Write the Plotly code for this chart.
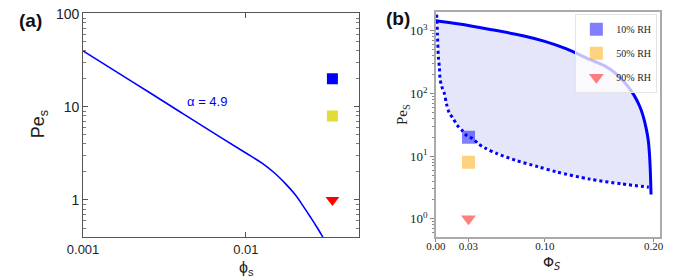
import plotly.graph_objects as go

# ---------------- data: panel (a) ----------------
a_phi = [0.001, 0.002, 0.004, 0.007, 0.01, 0.0125, 0.015, 0.0175, 0.02, 0.0225, 0.025, 0.0275, 0.0297]
a_pe = [40, 18.7, 8.7, 4.7, 3.2, 2.5, 1.95, 1.5, 1.15, 0.86, 0.65, 0.50, 0.40]
a_mark_phi = 0.034
a_mark_pe = [20, 8, 1]
a_minor_y = [0.5, 0.6, 0.7, 0.8, 0.9, 2, 3, 4, 5, 6, 7, 8, 9, 20, 30, 40, 50, 60, 70, 80, 90]

# ---------------- data: panel (b) ----------------
b_solid_phi = [0.0, 0.02, 0.05, 0.08, 0.1, 0.12, 0.14, 0.155, 0.165, 0.175,
               0.182, 0.187, 0.19, 0.193, 0.195, 0.1962, 0.197, 0.1975]
b_solid_pe = [1445, 1288, 1047, 832, 676, 513, 355, 275, 209, 138,
              93, 63, 45, 28, 17.8, 10, 5, 2.45]
b_dot_phi = [0.0008, 0.0015, 0.0024, 0.0033, 0.0039, 0.0054, 0.0078, 0.0098, 0.0123,
             0.0158, 0.0197, 0.0239, 0.0286, 0.0338, 0.0389, 0.0457, 0.0561, 0.074,
             0.0935, 0.111, 0.141, 0.171, 0.1955]
b_dot_pe = [1800, 900, 370, 260, 170, 130, 100, 68, 49, 40, 31, 26, 21, 19, 15.8,
            13.3, 11, 8.5, 6.8, 5.6, 4.3, 3.6, 3.2]
b_mark_phi = 0.03
b_mark_pe = [20, 8, 1]
b_labels = ["10% RH", "50% RH", "90% RH"]
b_minor_y = [0.6, 0.7, 0.8, 0.9, 2, 3, 4, 5, 6, 7, 8, 9, 20, 30, 40, 50, 60, 70, 80, 90,
             200, 300, 400, 500, 600, 700, 800, 900, 2000]

a_colors = ["#0000ff", "#e2dc3a", "#ff0000"]
b_colors = ["rgba(0,0,255,0.5)", "rgba(255,165,0,0.5)", "rgba(255,0,0,0.5)"]
symbols = ["square", "square", "triangle-down"]

fig = go.Figure()

# panel (a)
fig.add_trace(go.Scatter(x=a_phi, y=a_pe, mode="lines",
                         line=dict(color="#0000ff", width=1.6, shape="spline", smoothing=1.0),
                         xaxis="x", yaxis="y", showlegend=False))
for i in range(3):
    fig.add_trace(go.Scatter(x=[a_mark_phi], y=[a_mark_pe[i]], mode="markers",
                             marker=dict(color=a_colors[i], symbol=symbols[i], size=11 if i < 2 else 12,
                                         line=dict(width=0)),
                             xaxis="x", yaxis="y", showlegend=False))

# panel (b) fill region
fill_x = list(b_solid_phi) + list(reversed(b_dot_phi))
fill_y = list(b_solid_pe) + list(reversed(b_dot_pe))
fig.add_trace(go.Scatter(x=fill_x, y=fill_y, mode="lines", fill="toself",
                         fillcolor="rgb(230,230,250)", line=dict(width=0, shape="spline", smoothing=0.8),
                         xaxis="x2", yaxis="y2", showlegend=False, hoverinfo="skip"))
fig.add_trace(go.Scatter(x=b_solid_phi, y=b_solid_pe, mode="lines",
                         line=dict(color="#0000ff", width=3, shape="spline", smoothing=0.8),
                         xaxis="x2", yaxis="y2", showlegend=False))
fig.add_trace(go.Scatter(x=b_dot_phi, y=b_dot_pe, mode="lines",
                         line=dict(color="#0000ff", width=3, dash="3px,3px", shape="spline", smoothing=0.8),
                         xaxis="x2", yaxis="y2", showlegend=False))
for i in range(3):
    fig.add_trace(go.Scatter(x=[b_mark_phi], y=[b_mark_pe[i]], mode="markers", name=b_labels[i],
                             marker=dict(color=b_colors[i], symbol=symbols[i], size=13, line=dict(width=0)),
                             xaxis="x2", yaxis="y2", showlegend=True, legendgroup=str(i)))

W, H = 673, 278
def px(x):
    return x / W
def py(y):
    return 1 - y / H

fig.update_layout(
    width=W, height=H, margin=dict(l=0, r=0, t=0, b=0),
    paper_bgcolor="white", plot_bgcolor="white",
    xaxis=dict(type="log", range=[-3, -1.305], domain=[px(69), px(353)],
               tickvals=[0.001, 0.01], ticktext=["0.001", "0.01"],
               ticks="inside", ticklen=5, tickcolor="#555", showline=True, linecolor="#555",
               linewidth=1, mirror="ticks", showgrid=False, zeroline=False,
               tickfont=dict(family="Liberation Sans", size=13, color="#222"), anchor="y"),
    yaxis=dict(type="log", range=[-0.398, 2.01], domain=[py(236), py(6)],
               tickvals=[1, 10, 100], ticktext=["1", "10", "100"], ticklabeloverflow="allow",
               ticks="inside", ticklen=5, tickcolor="#555", showline=True, linecolor="#555",
               linewidth=1, mirror="ticks", showgrid=False, zeroline=False,
               minor=dict(ticks="inside", ticklen=3, tickcolor="#777", tickmode="array",
                          tickvals=a_minor_y, showgrid=False),
               tickfont=dict(family="Liberation Sans", size=14, color="#222"), anchor="x"),
    xaxis2=dict(range=[0, 0.206], domain=[px(432), px(663)],
                tickvals=[0.0, 0.03, 0.10, 0.20], ticktext=["0.00", "0.03", "0.10", "0.20"],
                ticks="outside", ticklen=3, tickcolor="#888", showline=True, linecolor="#aaa",
                linewidth=1.5, mirror=True, showgrid=False, zeroline=False, ticklabelstandoff=-5,
                tickfont=dict(family="Liberation Serif", size=11, color="#222"), anchor="y2"),
    yaxis2=dict(type="log", range=[-0.29, 3.30], domain=[py(236), py(5)],
                tickvals=[1, 10, 100, 1000],
                ticktext=["10<sup>0</sup>", "10<sup>1</sup>", "10<sup>2</sup>", "10<sup>3</sup>"],
                ticks="outside", ticklen=4, tickcolor="#888", showline=True, linecolor="#aaa",
                linewidth=1.5, mirror=True, showgrid=False, zeroline=False,
                minor=dict(ticks="outside", ticklen=2, tickcolor="#888", tickmode="array",
                           tickvals=b_minor_y, showgrid=False),
                tickfont=dict(family="Liberation Serif", size=13, color="#222"), anchor="x2"),
    legend=dict(x=px(660), y=py(7), xanchor="right", yanchor="top",
                bgcolor="rgba(255,255,255,0.75)", bordercolor="#e4e4e4", borderwidth=1,
                font=dict(family="Liberation Serif", size=10, color="#222"),
                tracegroupgap=5, itemwidth=30),
    annotations=[
        dict(text="<b>(a)</b>", x=px(1), y=py(14), xref="paper", yref="paper", showarrow=False,
             xanchor="left", yanchor="middle", font=dict(family="Liberation Sans", size=19, color="#111")),
        dict(text="<b>(b)</b>", x=px(393), y=py(12), xref="paper", yref="paper", showarrow=False,
             xanchor="center", yanchor="middle", font=dict(family="Liberation Sans", size=19, color="#111")),
        dict(text="α = 4.9", x=px(197), y=py(97), xref="paper", yref="paper", showarrow=False,
             xanchor="center", yanchor="middle", font=dict(family="Liberation Sans", size=13, color="#0000ff")),
        dict(text="Pe<sub>s</sub>", x=px(25), y=py(120), xref="paper", yref="paper", showarrow=False,
             textangle=-90, xanchor="center", yanchor="middle",
             font=dict(family="Liberation Sans", size=18, color="#222")),
        dict(text="ϕ<sub>s</sub>", x=px(237), y=py(268), xref="paper", yref="paper", showarrow=False,
             xanchor="center", yanchor="middle", font=dict(family="Liberation Sans", size=16, color="#222")),
        dict(text="Pe<sub>S</sub>", x=px(398), y=py(110), xref="paper", yref="paper", showarrow=False,
             textangle=-90, xanchor="center", yanchor="middle",
             font=dict(family="Liberation Serif", size=15, color="#222")),
        dict(text="Φ<sub><i>S</i></sub>", x=px(551), y=py(263), xref="paper", yref="paper", showarrow=False,
             xanchor="center", yanchor="middle", font=dict(family="DejaVu Sans", size=14, color="#222")),
    ],
)

fig.write_html("out.html")
